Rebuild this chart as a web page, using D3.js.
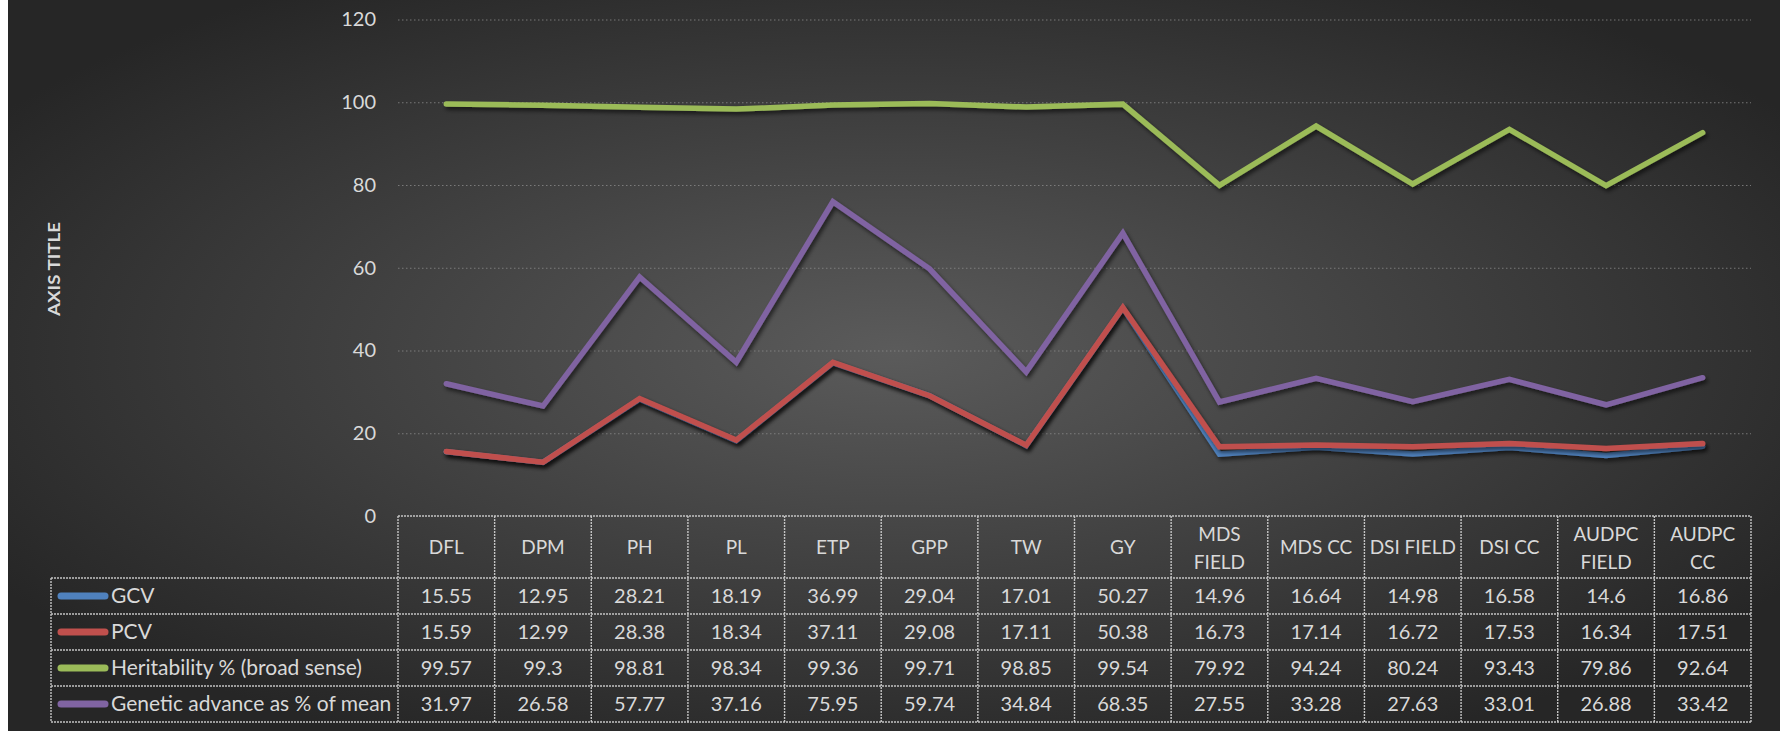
<!DOCTYPE html>
<html>
<head>
<meta charset="utf-8">
<script src="https://cdn.jsdelivr.net/npm/d3@7"></script>
<style>
  html, body { margin: 0; padding: 0; background: #ffffff; }
  #graf { width: 1780px; height: 731px; }
  text { font-family: Lato, "Open Sans", sans-serif; }
</style>
</head>
<body>
<div id="graf"></div>
<script>
// Datos del gráfico
categorias = ['DFL', 'DPM', 'PH', 'PL', 'ETP', 'GPP', 'TW', 'GY', 'MDS FIELD', 'MDS CC', 'DSI FIELD', 'DSI CC', 'AUDPC FIELD', 'AUDPC CC']
series = ['GCV', 'PCV', 'Heritability % (broad sense)', 'Genetic advance as % of mean']
gcv = [15.55, 12.95, 28.21, 18.19, 36.99, 29.04, 17.01, 50.27, 14.96, 16.64, 14.98, 16.58, 14.6, 16.86]
pcv = [15.59, 12.99, 28.38, 18.34, 37.11, 29.08, 17.11, 50.38, 16.73, 17.14, 16.72, 17.53, 16.34, 17.51]
heredabilidad = [99.57, 99.3, 98.81, 98.34, 99.36, 99.71, 98.85, 99.54, 79.92, 94.24, 80.24, 93.43, 79.86, 92.64]
avance = [31.97, 26.58, 57.77, 37.16, 75.95, 59.74, 34.84, 68.35, 27.55, 33.28, 27.63, 33.01, 26.88, 33.42]
yTicks = [0, 20, 40, 60, 80, 100, 120]
colores = ['#4f81bd', '#c0504d', '#9bbb59', '#8064a2']

valores = [gcv, pcv, heredabilidad, avance]

// I. Configuración
ancho_total = 1780
alto_total = 731
izq = 398, der = 1751
legendaIzq = 51
textoColor = '#d9d9d9'
fuente = '20px'

svg = d3.select('#graf').append('svg')
        .attr('width', ancho_total)
        .attr('height', alto_total)

defs = svg.append('defs')
grad = defs.append('radialGradient')
           .attr('id', 'fondo')
           .attr('cx', '50%').attr('cy', '48%').attr('r', '60%')
grad.append('stop').attr('offset', '0%').attr('stop-color', '#5b5b5b')
grad.append('stop').attr('offset', '100%').attr('stop-color', '#262626')

sombra = defs.append('filter').attr('id', 'sombra')
             .attr('x', '-5%').attr('y', '-20%').attr('width', '110%').attr('height', '140%')
sombra.append('feDropShadow')
      .attr('dx', 2).attr('dy', 3).attr('stdDeviation', 2)
      .attr('flood-color', '#000').attr('flood-opacity', 0.6)

svg.append('rect')
   .attr('x', 8).attr('y', 0)
   .attr('width', ancho_total - 8).attr('height', alto_total)
   .attr('fill', 'url(#fondo)')

// escaladores
x = d3.scaleBand()
      .domain(categorias)
      .range([izq, der])

y = d3.scaleLinear()
      .domain([0, 120])
      .range([516, 19.5])

// eje Y con líneas de cuadrícula
yAxisGroup = svg.append('g')
                .attr('transform', `translate(${izq}, 0)`)
                .call(d3.axisLeft(y)
                        .tickValues(yTicks)
                        .tickSize(-(der - izq))
                        .tickPadding(22))
yAxisGroup.select('.domain').remove()
yAxisGroup.selectAll('.tick line')
          .attr('stroke', '#8a8a8a')
          .attr('stroke-width', 1)
          .attr('stroke-dasharray', '1.5,2.5')
          .attr('opacity', d => d == 0 ? 0 : 0.8)
yAxisGroup.selectAll('.tick text')
          .attr('fill', textoColor)
          .attr('font-size', fuente)
          .attr('font-family', 'Lato, sans-serif')

// título del eje
svg.append('text')
   .attr('transform', 'translate(60, 269) rotate(-90)')
   .attr('text-anchor', 'middle')
   .attr('font-size', '17px')
   .attr('font-weight', 'bold')
   .attr('fill', textoColor)
   .attr('textLength', 94)
   .attr('lengthAdjust', 'spacingAndGlyphs')
   .text('AXIS TITLE')

// líneas
linea = d3.line()
          .x((d, i) => x(categorias[i]) + x.bandwidth() / 2)
          .y(d => y(d))

svg.append('g').selectAll('path')
   .data(valores)
   .join('path')
     .attr('d', d => linea(d))
     .attr('fill', 'none')
     .attr('stroke', (d, i) => colores[i])
     .attr('stroke-width', 5.5)
     .attr('stroke-linecap', 'round')
     .attr('stroke-linejoin', 'miter')
     .attr('filter', 'url(#sombra)')

// tabla de datos
filas = d3.scaleBand()
          .domain(series)
          .range([578, 722])
encabezadoTop = 516
encabezadoBottom = 578

tabla = svg.append('g')
bordeStyle = sel => sel.attr('stroke', '#c4c4c4')
                       .attr('stroke-width', 1.4)
                       .attr('stroke-dasharray', '2,1')
                       .attr('fill', 'none')

// líneas horizontales
tabla.append('line').attr('x1', izq).attr('x2', der)
     .attr('y1', encabezadoTop).attr('y2', encabezadoTop).call(bordeStyle)
tabla.selectAll('.hline')
     .data([encabezadoBottom].concat(series.map(s => filas(s) + filas.bandwidth())))
     .join('line')
       .attr('x1', legendaIzq).attr('x2', der)
       .attr('y1', d => d).attr('y2', d => d)
       .call(bordeStyle)

// líneas verticales
tabla.append('line').attr('x1', legendaIzq).attr('x2', legendaIzq)
     .attr('y1', encabezadoBottom).attr('y2', 722).call(bordeStyle)
tabla.selectAll('.vline')
     .data(categorias.map(c => x(c)).concat([der]))
     .join('line')
       .attr('x1', d => d).attr('x2', d => d)
       .attr('y1', encabezadoTop).attr('y2', 722)
       .call(bordeStyle)

// encabezados de categoría (con salto de línea si no caben)
encabezados = tabla.selectAll('.enc')
     .data(categorias)
     .join('text')
       .attr('class', 'enc')
       .attr('text-anchor', 'middle')
       .attr('font-size', '19px')
       .attr('fill', textoColor)
       .attr('x', d => x(d) + x.bandwidth() / 2)
       .attr('y', (encabezadoTop + encabezadoBottom) / 2)
       .attr('dy', '0.35em')
       .text(d => d)

encabezados.each(function(d) {
  t = d3.select(this)
  if (this.getComputedTextLength() > x.bandwidth() - 10 && d.indexOf(' ') > 0) {
    partes = d.split(' ')
    cx = x(d) + x.bandwidth() / 2
    t.text(null).attr('dy', null)
    t.append('tspan').attr('x', cx).attr('y', (encabezadoTop + encabezadoBottom) / 2 - 13).attr('dy', '0.35em').text(partes[0])
    t.append('tspan').attr('x', cx).attr('y', (encabezadoTop + encabezadoBottom) / 2 + 15).attr('dy', '0.35em').text(partes.slice(1).join(' '))
  }
})

// filas con leyenda y valores
series.forEach((s, i) => {
  yc = filas(s) + filas.bandwidth() / 2
  tabla.append('line')
       .attr('x1', 61).attr('x2', 105)
       .attr('y1', yc).attr('y2', yc)
       .attr('stroke', colores[i])
       .attr('stroke-width', 7)
       .attr('stroke-linecap', 'round')
  tabla.append('text')
       .attr('x', 111).attr('y', yc)
       .attr('dy', '0.35em')
       .attr('font-size', '21px')
       .attr('fill', textoColor)
       .text(s)
  tabla.selectAll(null)
       .data(valores[i])
       .join('text')
         .attr('text-anchor', 'middle')
         .attr('x', (d, j) => x(categorias[j]) + x.bandwidth() / 2)
         .attr('y', yc)
         .attr('dy', '0.35em')
         .attr('font-size', fuente)
         .attr('fill', textoColor)
         .text(d => String(d))
})
</script>
</body>
</html>
